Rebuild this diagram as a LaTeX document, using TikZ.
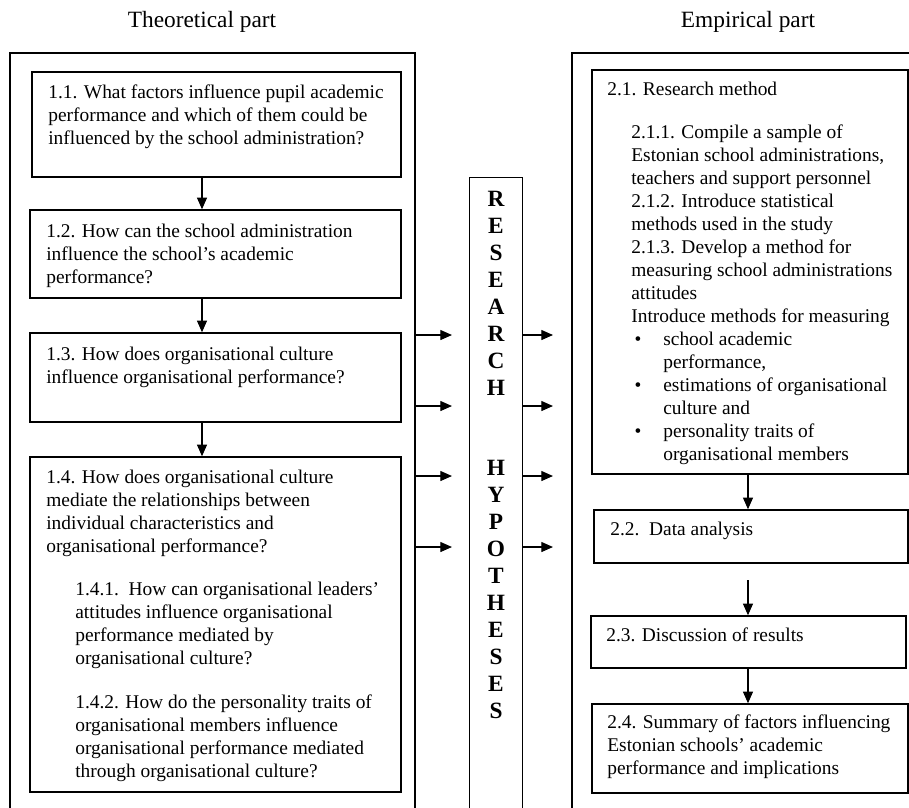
\documentclass[tikz,border=0pt]{standalone}
\usepackage{fontspec}
\setmainfont{Liberation Serif}
\usetikzlibrary{arrows.meta,fit}
\begin{document}
\begin{tikzpicture}[x=0.6pt,y=-0.6pt,
  outer/.style={draw,line width=1.3pt,inner sep=0pt},
  qbox/.style={draw,line width=0.9pt,inner sep=0pt},
  midbox/.style={draw,line width=0.6pt,inner sep=0pt},
  txt/.style={inner sep=0pt,align=left,anchor=base west,font=\fontsize{11.65}{13.8}\selectfont},
  ttl/.style={inner sep=0pt,anchor=base,font=\fontsize{14}{16}\selectfont},
  arr/.style={line width=0.7pt,-{Triangle[length=7pt,width=6pt]}},
]
\useasboundingbox (0,0) rectangle (909,807);
\clip (0,0) rectangle (909,807);

% titles
\node[ttl] (tT) at (202,27) {Theoretical part};
\node[ttl] (tE) at (748,27) {Empirical part};

% outer boxes
\node[outer, fit={(10,53) (415,840)}] (outL) {};
\node[outer, fit={(572,53) (940,840)}] (outR) {};
\node[midbox, fit={(469,177) (522,840)}] (mid) {};

% left boxes
\node[qbox, fit={(32,72) (401,177)}] (b11) {};
\node[qbox, fit={(30,210) (401,298)}] (b12) {};
\node[qbox, fit={(30,333) (401,422)}] (b13) {};
\node[qbox, fit={(30,457) (401,792)}] (b14) {};

% (base anchor = baseline of the last line)
\node[txt] (t11) at (48,144) {1.1. What factors influence pupil academic\\performance and which of them could be\\influenced by the school administration?};
\node[txt] (t12) at (46,283) {1.2. How can the school administration\\influence the school’s academic\\performance?};
\node[txt] (t13) at (46,383) {1.3. How does organisational culture\\influence organisational performance?};
\node[txt] (t14) at (46,552) {1.4. How does organisational culture\\mediate the relationships between\\individual characteristics and\\organisational performance?};
\node[txt] (t141) at (75,664) {1.4.1.\ \ How can organisational leaders’\\attitudes influence organisational\\performance mediated by\\organisational culture?};
\node[txt] (t142) at (75,777) {1.4.2. How do the personality traits of\\organisational members influence\\organisational performance mediated\\through organisational culture?};

% middle letters
\node[inner sep=0pt, anchor=base, align=center, font=\fontsize{14}{16.15}\selectfont\bfseries] (ltr) at (496,718)
  {R\\E\\S\\E\\A\\R\\C\\H\\[32.3pt]H\\Y\\P\\O\\T\\H\\E\\S\\E\\S};

% right boxes
\node[qbox, fit={(592,70) (908,474)}] (b21) {};
\node[qbox, fit={(594,510) (908,563)}] (b22) {};
\node[qbox, fit={(591,616) (906,668)}] (b23) {};
\node[qbox, fit={(592,704) (908,793)}] (b24) {};

\node[txt] (t21) at (607,95) {2.1. Research method};
\node[txt] (t211) at (631,460) {2.1.1. Compile a sample of\\Estonian school administrations,\\teachers and support personnel\\2.1.2. Introduce statistical\\methods used in the study\\2.1.3. Develop a method for\\measuring school administrations\\attitudes\\Introduce methods for measuring\\
\hspace*{2pt}\makebox[17.2pt][l]{•}school academic\\\hspace*{19.2pt}performance,\\
\hspace*{2pt}\makebox[17.2pt][l]{•}estimations of organisational\\\hspace*{19.2pt}culture and\\
\hspace*{2pt}\makebox[17.2pt][l]{•}personality traits of\\\hspace*{19.2pt}organisational members};
\node[txt] (t22) at (610,535) {2.2.\ \ Data analysis};
\node[txt] (t23) at (606,641) {2.3. Discussion of results};
\node[txt] (t24) at (607,774) {2.4. Summary of factors influencing\\Estonian schools’ academic\\performance and implications};

% column coordinates
\coordinate (colL) at (202,0);
\coordinate (colR) at (748,0);
\coordinate (a23s) at (748,580);

% vertical arrows
\draw[arr] (b11.south -| colL) -- (b12.north -| colL);
\draw[arr] (b12.south -| colL) -- (b13.north -| colL);
\draw[arr] (b13.south -| colL) -- (b14.north -| colL);
\draw[arr] (b21.south -| colR) -- (b22.north -| colR);
\draw[arr] (a23s) -- (b23.north -| colR);
\draw[arr] (b23.south -| colR) -- (b24.north -| colR);

% horizontal arrows
\foreach \i/\yy in {1/335,2/406,3/476,4/547}{
  \coordinate (h\i) at (452,\yy);
  \coordinate (g\i) at (553,\yy);
  \draw[arr] (outL.east |- h\i) -- (h\i);
  \draw[arr] (mid.east |- g\i) -- (g\i);
}
\end{tikzpicture}
\end{document}
